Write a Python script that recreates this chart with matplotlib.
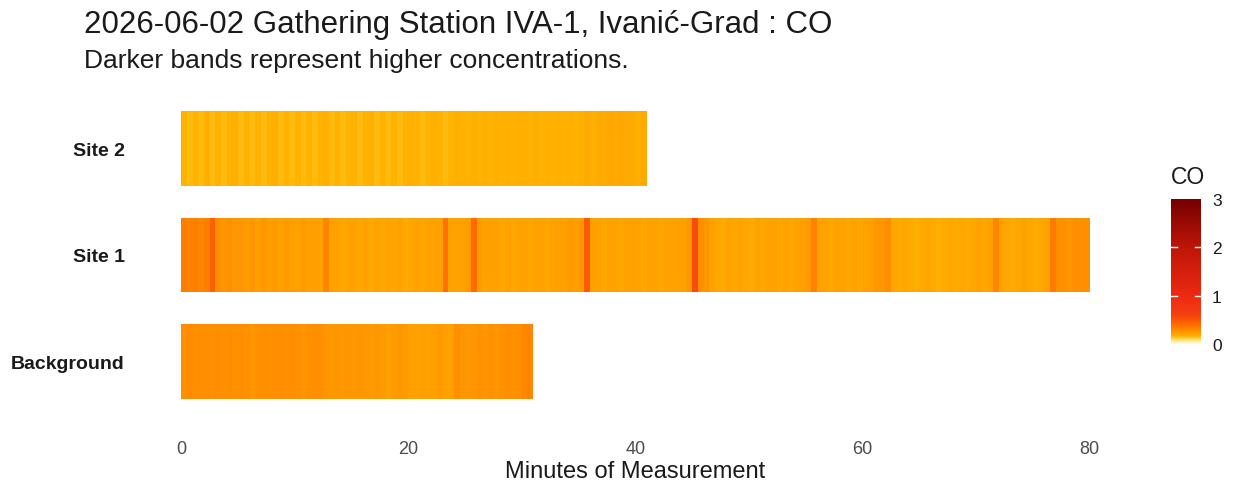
import numpy as np
import matplotlib
matplotlib.use("Agg")
import matplotlib.pyplot as plt
from matplotlib.colors import LinearSegmentedColormap, Normalize

# ---- data (CO per 0.5-minute interval) ----
sites = ["Background", "Site 1", "Site 2"]
step_min = 0.5

site2_co = [
    0.16, 0.15, 0.16, 0.15, 0.17, 0.15, 0.16, 0.15, 0.16, 0.17,
    0.15, 0.16, 0.15, 0.16, 0.15, 0.16, 0.17, 0.15, 0.16, 0.15,
    0.16, 0.15, 0.16, 0.15, 0.16, 0.17, 0.15, 0.16, 0.15, 0.16,
    0.16, 0.15, 0.16, 0.17, 0.15, 0.16, 0.15, 0.16, 0.15, 0.16,
    0.17, 0.16, 0.15, 0.16, 0.17, 0.16, 0.15, 0.16, 0.17, 0.16,
    0.16, 0.17, 0.16, 0.17, 0.16, 0.17, 0.16, 0.17, 0.16, 0.17,
    0.17, 0.16, 0.17, 0.16, 0.17, 0.16, 0.17, 0.16, 0.17, 0.16,
    0.17, 0.18, 0.17, 0.18, 0.18, 0.19, 0.18, 0.19, 0.18, 0.18,
    0.17, 0.18,
]

site1_co = [
    0.33, 0.32, 0.33, 0.31, 0.33, 0.45, 0.27, 0.25, 0.27, 0.24,
    0.25, 0.23, 0.25, 0.22, 0.24, 0.22, 0.23, 0.21, 0.23, 0.22,
    0.21, 0.23, 0.21, 0.22, 0.21, 0.31, 0.20, 0.21, 0.19, 0.20,
    0.21, 0.19, 0.20, 0.18, 0.20, 0.19, 0.21, 0.19, 0.20, 0.18,
    0.19, 0.20, 0.19, 0.21, 0.20, 0.22, 0.38, 0.21, 0.20, 0.21,
    0.23, 0.40, 0.23, 0.21, 0.20, 0.21, 0.19, 0.20, 0.19, 0.21,
    0.20, 0.19, 0.21, 0.20, 0.19, 0.20, 0.22, 0.21, 0.23, 0.22,
    0.24, 0.48, 0.22, 0.20, 0.19, 0.20, 0.21, 0.19, 0.20, 0.22,
    0.20, 0.19, 0.20, 0.21, 0.19, 0.20, 0.21, 0.20, 0.22, 0.25,
    0.55, 0.27, 0.24, 0.20, 0.19, 0.18, 0.20, 0.19, 0.21, 0.19,
    0.18, 0.20, 0.19, 0.20, 0.21, 0.19, 0.20, 0.19, 0.21, 0.22,
    0.23, 0.32, 0.21, 0.20, 0.19, 0.20, 0.21, 0.19, 0.20, 0.19,
    0.21, 0.22, 0.24, 0.25, 0.27, 0.19, 0.18, 0.19, 0.18, 0.17,
    0.18, 0.19, 0.18, 0.17, 0.18, 0.19, 0.18, 0.19, 0.18, 0.19,
    0.20, 0.19, 0.21, 0.30, 0.20, 0.19, 0.18, 0.19, 0.20, 0.19,
    0.18, 0.19, 0.21, 0.35, 0.28, 0.26, 0.25, 0.27, 0.26, 0.28,
]

background_co = [
    0.28, 0.29, 0.27, 0.28, 0.27, 0.26, 0.27, 0.26, 0.27, 0.26,
    0.27, 0.26, 0.25, 0.26, 0.27, 0.26, 0.27, 0.28, 0.26, 0.27,
    0.26, 0.25, 0.26, 0.27, 0.26, 0.25, 0.24, 0.25, 0.24, 0.25,
    0.24, 0.25, 0.24, 0.23, 0.24, 0.23, 0.22, 0.23, 0.24, 0.23,
    0.22, 0.21, 0.22, 0.21, 0.22, 0.23, 0.22, 0.21, 0.28, 0.25,
    0.24, 0.25, 0.26, 0.25, 0.26, 0.25, 0.26, 0.27, 0.26, 0.28,
    0.30, 0.31,
]

series = {"Background": background_co, "Site 1": site1_co, "Site 2": site2_co}

title = "2026-06-02 Gathering Station IVA-1, Ivanić-Grad : CO"
subtitle = "Darker bands represent higher concentrations."
x_label = "Minutes of Measurement"
x_ticks = [0, 20, 40, 60, 80]
legend_title = "CO"
legend_ticks = [0, 1, 2, 3]

# ---- colour scale ----
vmin, vmax = 0, 3
nodes = [
    (0.00, "#FFFBD6"), (0.08, "#FFE070"), (0.15, "#FFB400"), (0.20, "#FFA200"),
    (0.27, "#FF8E00"), (0.40, "#FF6A00"), (0.60, "#F54010"), (1.00, "#EC2A12"),
    (2.00, "#BE1608"), (3.00, "#760000"),
]
cmap = LinearSegmentedColormap.from_list(
    "co", [((v - vmin) / (vmax - vmin), c) for v, c in nodes])
norm = Normalize(vmin, vmax)

plt.rcParams["font.family"] = ["Liberation Sans", "DejaVu Sans"]

fig = plt.figure(figsize=(12.33, 4.85), dpi=100)
fig.patch.set_facecolor("white")
ax = fig.add_axes([136 / 1233, 1 - 427 / 485, 999 / 1233, 342 / 485])

for i, name in enumerate(sites):
    vals = np.asarray(series[name])
    xe = np.arange(len(vals) + 1) * step_min
    ye = np.array([i - 0.35, i + 0.35])
    ax.pcolormesh(xe, ye, vals[np.newaxis, :], cmap=cmap, norm=norm,
                  shading="flat", linewidth=0, antialiased=False, rasterized=True)

ax.set_xlim(-4, 84)
ax.set_ylim(-0.6, 2.6)
ax.set_xticks(x_ticks)
ax.set_xticklabels([str(t) for t in x_ticks])
ax.set_yticks(range(len(sites)))
ax.set_yticklabels(sites, fontweight="bold", fontsize=14)
ax.tick_params(axis="x", length=0, pad=10, labelsize=13, labelcolor="#4D4D4D")
ax.tick_params(axis="y", length=0, pad=8, labelcolor="#1A1A1A")
for s in ax.spines.values():
    s.set_visible(False)
ax.set_xlabel(x_label, fontsize=17, color="#1A1A1A", labelpad=2)

fig.text(84 / 1233, 1 - 33 / 485, title, fontsize=22.5, color="#1A1A1A",
         ha="left", va="baseline")
fig.text(84 / 1233, 1 - 68 / 485, subtitle, fontsize=19, color="#1A1A1A",
         ha="left", va="baseline")

# ---- colourbar ----
cax = fig.add_axes([1171 / 1233, 1 - 345 / 485, 30 / 1233, 145 / 485])
grad = np.linspace(vmin, vmax, 300)[:, np.newaxis]
cax.imshow(grad, cmap=cmap, norm=norm, aspect="auto", origin="lower",
           extent=[0, 1, vmin, vmax])
for t in legend_ticks[1:-1]:
    cax.plot([0, 0.2], [t, t], color="white", lw=1)
    cax.plot([0.8, 1], [t, t], color="white", lw=1)
cax.set_xlim(0, 1)
cax.set_ylim(vmin, vmax)
cax.set_xticks([])
cax.yaxis.tick_right()
cax.set_yticks(legend_ticks)
cax.tick_params(axis="y", length=0, pad=8, labelsize=12.5, labelcolor="#1A1A1A")
for s in cax.spines.values():
    s.set_visible(False)
fig.text(1171 / 1233, 1 - 177 / 485, legend_title, fontsize=16.5, color="#1A1A1A",
         ha="left", va="center")

fig.savefig("out.png", dpi=100)
